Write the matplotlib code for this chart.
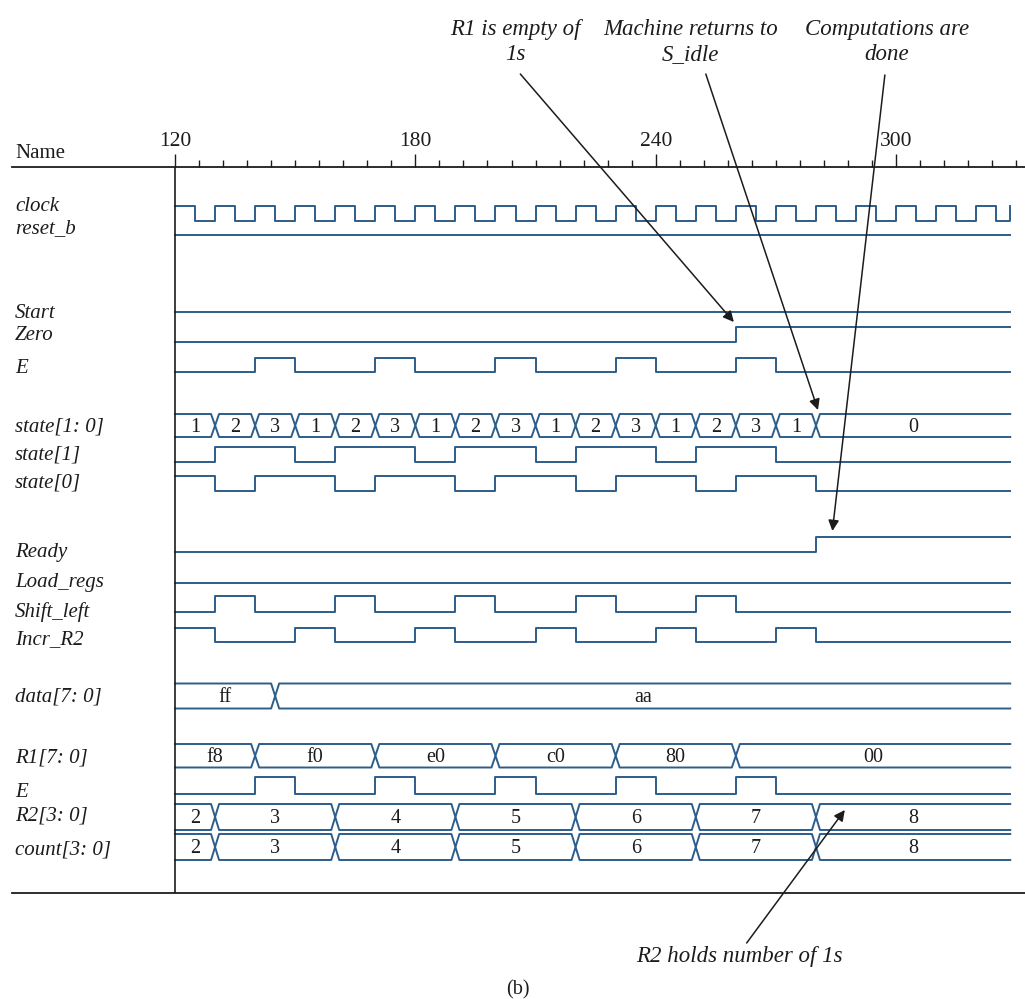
import matplotlib.pyplot as plt
from matplotlib.ticker import FixedLocator
import numpy as np

plt.rcParams["font.family"] = ["Liberation Serif", "DejaVu Serif"]

# simulation window shown (ns)
t_start = 120
t_end = 328.5

# single-bit signals: transition times and levels
clock_times = [120, 125, 130, 135, 140, 145, 150, 155, 160, 165, 170, 175, 180, 185,
               190, 195, 200, 205, 210, 215, 220, 225, 230, 235, 240, 245, 250, 255,
               260, 265, 270, 275, 280, 285, 290, 295, 300, 305, 310, 315, 320, 325, 328.5]
clock_levels = [1, 0, 1, 0, 1, 0, 1, 0, 1, 0, 1, 0, 1, 0,
                1, 0, 1, 0, 1, 0, 1, 0, 1, 0, 1, 0, 1, 0,
                1, 0, 1, 0, 1, 0, 1, 0, 1, 0, 1, 0, 1, 0, 1]
reset_times = [120]
reset_levels = [1]
start_times = [120]
start_levels = [1]
zero_times = [120, 260]
zero_levels = [0, 1]
e_times = [120, 140, 150, 170, 180, 200, 210, 230, 240, 260, 270]
e_levels = [0, 1, 0, 1, 0, 1, 0, 1, 0, 1, 0]
state1_times = [120, 130, 150, 160, 180, 190, 210, 220, 240, 250, 270]
state1_levels = [0, 1, 0, 1, 0, 1, 0, 1, 0, 1, 0]
state0_times = [120, 130, 140, 160, 170, 190, 200, 220, 230, 250, 260, 280]
state0_levels = [1, 0, 1, 0, 1, 0, 1, 0, 1, 0, 1, 0]
ready_times = [120, 280]
ready_levels = [0, 1]
load_times = [120]
load_levels = [0]
shift_times = [120, 130, 140, 160, 170, 190, 200, 220, 230, 250, 260]
shift_levels = [0, 1, 0, 1, 0, 1, 0, 1, 0, 1, 0]
incr_times = [120, 130, 150, 160, 180, 190, 210, 220, 240, 250, 270, 280]
incr_levels = [1, 0, 1, 0, 1, 0, 1, 0, 1, 0, 1, 0]

# multi-bit signals: transition times and values
state_times = [120, 130, 140, 150, 160, 170, 180, 190, 200, 210, 220, 230, 240, 250, 260, 270, 280]
state_vals = ["1", "2", "3", "1", "2", "3", "1", "2", "3", "1", "2", "3", "1", "2", "3", "1", "0"]
data_times = [120, 145]
data_vals = ["ff", "aa"]
r1_times = [120, 140, 170, 200, 230, 260]
r1_vals = ["f8", "f0", "e0", "c0", "80", "00"]
r2_times = [120, 130, 160, 190, 220, 250, 280]
r2_vals = ["2", "3", "4", "5", "6", "7", "8"]
count_times = [120, 130, 160, 190, 220, 250, 280]
count_vals = ["2", "3", "4", "5", "6", "7", "8"]

# axis ticks
major_ticks = [120, 180, 240, 300]

# ---- layout (vertical positions in pixels of the drawing) ----
W, H = 1025, 999
px_unit = 4.006
ink = "#1c1c1c"
wave = "#2d5d8a"
lw_wave = 1.4
y_axis_top, y_axis_bot = 166.7, 893

fig = plt.figure(figsize=(W / 100, H / 100), dpi=100)
ax = fig.add_axes([12 / W, (H - y_axis_bot) / H, 1013 / W, (y_axis_bot - y_axis_top) / H])
ax.set_xlim(t_start - 163 / px_unit, t_start + 850 / px_unit)
ax.set_ylim(y_axis_bot, y_axis_top)


def draw_wave(times, levels, hi, lo):
    x = list(times) + [t_end]
    y = [hi if v else lo for v in levels]
    y.append(y[-1])
    ax.step(x, y, where="post", color=wave, lw=lw_wave)


def draw_bus(times, vals, top, bot, d=1.0):
    mid = (top + bot) / 2
    xs, yt, yb = [times[0]], [top], [bot]
    for t in times[1:]:
        xs += [t - d, t, t + d]
        yt += [top, mid, top]
        yb += [bot, mid, bot]
    xs.append(t_end)
    yt.append(top)
    yb.append(bot)
    ax.plot(xs, yt, color=wave, lw=lw_wave)
    ax.plot(xs, yb, color=wave, lw=lw_wave)
    edges = list(times) + [t_end]
    for a, b, v in zip(edges[:-1], edges[1:], vals):
        ax.text((a + b) / 2, mid + 6.5, v, ha="center", va="baseline",
                fontsize=14.5, color=ink)


draw_wave(clock_times, clock_levels, 206, 221)
draw_wave(reset_times, reset_levels, 235, 250)
draw_wave(start_times, start_levels, 312, 327)
draw_wave(zero_times, zero_levels, 327, 342)
draw_wave(e_times, e_levels, 358, 372.5)
draw_bus(state_times, state_vals, 414, 437)
draw_wave(state1_times, state1_levels, 447, 462)
draw_wave(state0_times, state0_levels, 476, 491.5)
draw_wave(ready_times, ready_levels, 537, 552.5)
draw_wave(load_times, load_levels, 568, 583)
draw_wave(shift_times, shift_levels, 596.5, 612)
draw_wave(incr_times, incr_levels, 628.5, 642.5)
draw_bus(data_times, data_vals, 683.5, 708.5)
draw_bus(r1_times, r1_vals, 744, 767.5)
draw_wave(e_times, e_levels, 777.5, 794)
draw_bus(r2_times, r2_vals, 804, 830)
draw_bus(count_times, count_vals, 834, 860)

# signal names
names = ["clock", "reset_b", "Start", "Zero", "E", "state[1: 0]", "state[1]", "state[0]",
         "Ready", "Load_regs", "Shift_left", "Incr_R2", "data[7: 0]", "R1[7: 0]", "E",
         "R2[3: 0]", "count[3: 0]"]
name_y = [211, 233, 318, 340, 373, 432, 460, 488, 557, 587, 617, 644, 702, 763, 797, 821, 855]
label_x = t_start - 160 / px_unit
for n, y in zip(names, name_y):
    ax.text(label_x, y, n, ha="left", va="baseline", fontsize=15, style="italic", color=ink)
ax.text(label_x, 158, "Name", ha="left", va="baseline", fontsize=15, color=ink)

# time axis on top
ax.xaxis.set_ticks_position("top")
ax.xaxis.set_major_locator(FixedLocator(major_ticks))
ax.xaxis.set_minor_locator(FixedLocator(np.arange(120, 331, 6)))
ax.tick_params(axis="x", which="major", direction="out", length=9.6, width=1.0,
               labelsize=15.5, pad=2, colors=ink)
ax.tick_params(axis="x", which="minor", direction="out", length=4.8, width=1.0, colors=ink)
ax.yaxis.set_visible(False)
ax.spines["left"].set_visible(False)
ax.spines["right"].set_visible(False)
for s in ("top", "bottom"):
    ax.spines[s].set_linewidth(1.3)
    ax.spines[s].set_color(ink)
ax.plot([t_start, t_start], [y_axis_top, y_axis_bot], color=ink, lw=1.2)

# annotations
arrow = dict(arrowstyle="-|>", color=ink, lw=1.1, mutation_scale=16, shrinkA=0, shrinkB=0)
notes = [
    ("R1 is empty of\n1s", 204.9, (206.2, 74), (259.5, 322)),
    ("Machine returns to\nS_idle", 248.6, (252.5, 74), (280.5, 410)),
    ("Computations are\ndone", 297.7, (297.2, 75), (284.1, 531)),
]
for txt, tx, tail, tip in notes:
    ax.text(tx, 42, txt, ha="center", va="center", fontsize=16.5, style="italic",
            linespacing=1.2, color=ink)
    ax.annotate("", xy=tip, xytext=tail, arrowprops=arrow, annotation_clip=False)

ax.text(261.0, 957, "R2 holds number of 1s", ha="center", va="center", fontsize=16.5,
        style="italic", color=ink)
ax.annotate("", xy=(287.2, 810), xytext=(262.7, 943), arrowprops=arrow, annotation_clip=False)
ax.text(205.6, 990, "(b)", ha="center", va="center", fontsize=14.5, color=ink)

plt.savefig("out.png", dpi=100)
